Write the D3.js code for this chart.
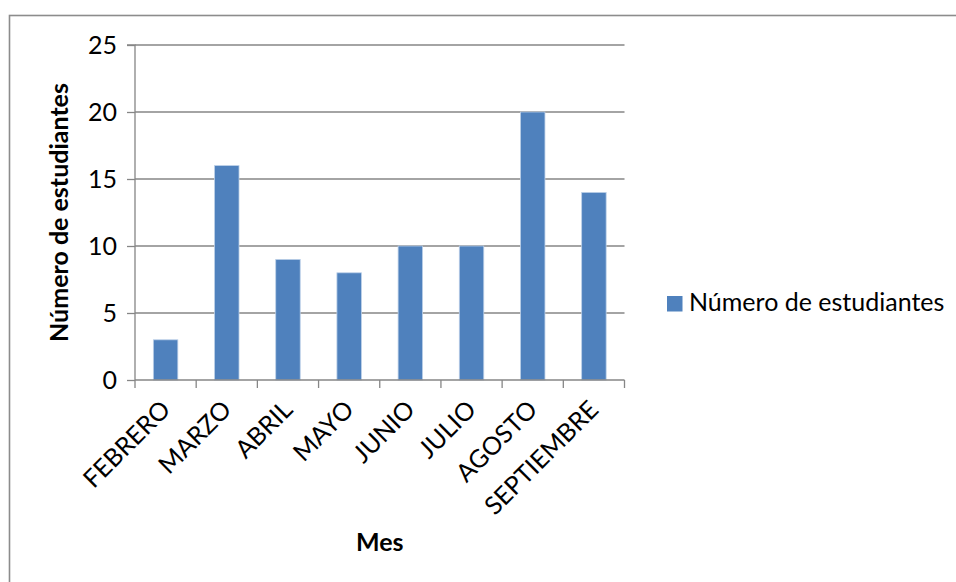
<!DOCTYPE html>
<html>
<head>
<meta charset="utf-8">
<script src="https://cdn.jsdelivr.net/npm/d3@7"></script>
<style>
  html, body { margin: 0; padding: 0; background: #fff; }
  svg { display: block; }
  text { font-family: Lato, "Open Sans", sans-serif; fill: #000; }
</style>
</head>
<body>
<svg id="chart" width="956" height="582"></svg>
<script>
// Students per month
const months = ["FEBRERO", "MARZO", "ABRIL", "MAYO", "JUNIO", "JULIO", "AGOSTO", "SEPTIEMBRE"];
const students = [3, 16, 9, 8, 10, 10, 20, 14];
const yTicks = [0, 5, 10, 15, 20, 25];
const seriesName = "Número de estudiantes";
const xTitle = "Mes";
const yTitle = "Número de estudiantes";

const data = months.map((m, i) => ({ month: m, value: students[i] }));

const svg = d3.select("#chart");

// chart frame (runs off the right and bottom edges)
svg.append("rect")
  .attr("x", 9.5).attr("y", 15.5)
  .attr("width", 1000).attr("height", 1000)
  .attr("fill", "#fff")
  .attr("stroke", "#8c8c8c")
  .attr("stroke-width", 1.6);

const plot = { left: 135, right: 624.5, top: 45, bottom: 380 };

const x = d3.scaleBand()
  .domain(months)
  .range([plot.left, plot.right])
  .paddingInner(0.6)
  .paddingOuter(0.3);

const y = d3.scaleLinear()
  .domain([0, 25])
  .range([plot.bottom, plot.top]);

const fs = 25;

// y axis
const yAxis = d3.axisLeft(y)
  .tickValues(yTicks)
  .tickSize(8)
  .tickPadding(10)
  .tickFormat(d3.format("d"));

const gy = svg.append("g")
  .attr("transform", `translate(${plot.left},0)`)
  .call(yAxis);
gy.select(".domain").attr("stroke", "#868686").attr("stroke-width", 1.3)
  .attr("d", `M-8,${plot.top}H0V${plot.bottom}`);
gy.selectAll(".tick line").attr("stroke", "#868686").attr("stroke-width", 1.3);
gy.selectAll(".tick text")
  .attr("font-size", fs)
  .attr("font-family", "Lato, sans-serif")
  .attr("dy", "0.34em");

// horizontal gridlines
svg.append("g")
  .selectAll("line")
  .data(yTicks.filter(d => d > 0))
  .join("line")
  .attr("x1", plot.left).attr("x2", plot.right)
  .attr("y1", d => y(d)).attr("y2", d => y(d))
  .attr("stroke", "#868686")
  .attr("stroke-width", 1.3);

// bars
svg.append("g")
  .selectAll("rect")
  .data(data)
  .join("rect")
  .attr("x", d => x(d.month))
  .attr("y", d => y(d.value))
  .attr("width", x.bandwidth())
  .attr("height", d => y(0) - y(d.value))
  .attr("fill", "#4f81bd")
  .attr("stroke", "#bcd0e8")
  .attr("stroke-width", 0.8);

// x axis with ticks at band boundaries
const bounds = d3.range(months.length + 1).map(i => plot.left + i * (plot.right - plot.left) / months.length);
const gx = svg.append("g");
gx.append("line")
  .attr("x1", plot.left).attr("x2", plot.right)
  .attr("y1", plot.bottom).attr("y2", plot.bottom)
  .attr("stroke", "#868686").attr("stroke-width", 1.3);
gx.selectAll("line.tk")
  .data(bounds)
  .join("line")
  .attr("class", "tk")
  .attr("x1", d => d).attr("x2", d => d)
  .attr("y1", plot.bottom).attr("y2", plot.bottom + 8)
  .attr("stroke", "#868686").attr("stroke-width", 1.3);

gx.selectAll("text")
  .data(months)
  .join("text")
  .attr("transform", d => `translate(${x(d) + x.bandwidth() / 2},${plot.bottom + 25}) rotate(-45)`)
  .attr("text-anchor", "end")
  .attr("dy", "0.35em")
  .attr("font-size", fs)
  .text(d => d);

// axis titles
svg.append("text")
  .attr("x", (plot.left + plot.right) / 2)
  .attr("y", 551)
  .attr("text-anchor", "middle")
  .attr("font-size", fs)
  .attr("font-weight", "bold")
  .text(xTitle);

svg.append("text")
  .attr("transform", `translate(68,${(plot.top + plot.bottom) / 2}) rotate(-90)`)
  .attr("text-anchor", "middle")
  .attr("font-size", fs)
  .attr("font-weight", "bold")
  .text(yTitle);

// legend
const lg = svg.append("g").attr("transform", "translate(667,296)");
lg.append("rect")
  .attr("width", 15.5).attr("height", 15.5)
  .attr("fill", "#4f81bd");
lg.append("text")
  .attr("x", 22).attr("y", 15)
  .attr("font-size", fs)
  .text(seriesName);
</script>
</body>
</html>
